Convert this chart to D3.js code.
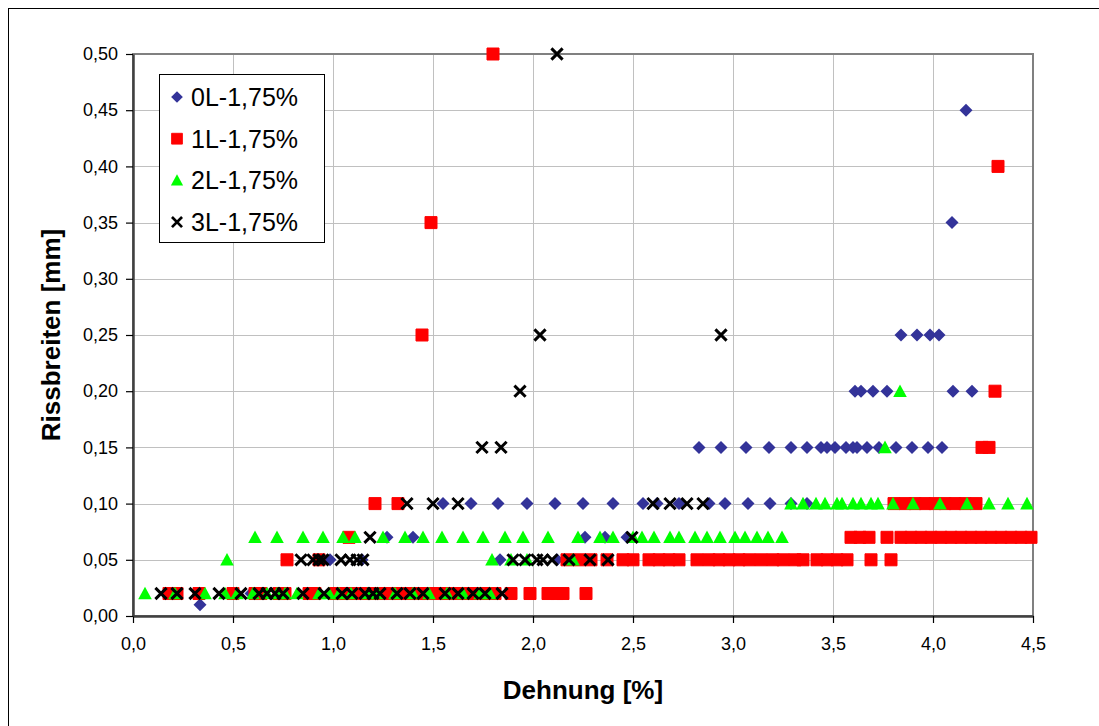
<!DOCTYPE html>
<html>
<head>
<meta charset="utf-8">
<script src="https://cdn.jsdelivr.net/npm/d3@7/dist/d3.min.js"></script>
<style>
  html, body { margin: 0; padding: 0; background: #fff; }
  svg { display: block; }
  text { font-family: "Liberation Sans", Arial, sans-serif; fill: #000; }
</style>
</head>
<body>
<svg id="chart" width="1099" height="726"></svg>
<script>
// Crack widths [mm] against strain [%], grouped per width level: [width, [strains...]]
const series0L = [
  [0.01, [0.335]],
  [0.02, [0.59]],
  [0.05, [0.985, 1.145, 1.835, 2.12]],
  [0.07, [1.27, 1.40, 2.26, 2.36, 2.47]],
  [0.10, [1.55, 1.69, 1.825, 1.97, 2.11, 2.25, 2.40, 2.55, 2.62, 2.73, 2.88, 2.96, 3.075, 3.185, 3.29, 3.37]],
  [0.15, [2.83, 2.94, 3.065, 3.18, 3.29, 3.37, 3.44, 3.47, 3.51, 3.565, 3.60, 3.62, 3.67, 3.73, 3.815, 3.895, 3.975, 4.045]],
  [0.20, [3.61, 3.64, 3.70, 3.77, 4.10, 4.195]],
  [0.25, [3.84, 3.92, 3.985, 4.03]],
  [0.35, [4.095]],
  [0.45, [4.165]]
];
const series1L = [
  [0.02, [0.18, 0.22, 0.33, 0.50, 0.61, 0.64, 0.73, 0.76, 0.88, 0.91, 1.01, 1.04, 1.10, 1.16, 1.20, 1.24, 1.285, 1.33, 1.385, 1.43, 1.475, 1.52, 1.57, 1.62, 1.67, 1.71, 1.75, 1.81, 1.89, 1.985, 2.075, 2.12, 2.15, 2.265]],
  [0.05, [0.77, 0.93, 2.17, 2.23, 2.29, 2.37, 2.45, 2.50, 2.58, 2.63, 2.68, 2.73, 2.82, 2.88, 2.93, 2.98, 3.03, 3.08, 3.14, 3.20, 3.25, 3.31, 3.35, 3.42, 3.47, 3.52, 3.57, 3.69, 3.79]],
  [0.07, [1.08, 3.59, 3.635, 3.68, 3.77, 3.84, 3.89, 3.94, 3.99, 4.04, 4.09, 4.14, 4.19, 4.24, 4.29, 4.34, 4.39, 4.44, 4.49]],
  [0.10, [1.21, 1.325, 3.805, 3.86, 3.91, 3.96, 4.01, 4.06, 4.11, 4.16, 4.215]],
  [0.15, [4.245, 4.28]],
  [0.20, [4.31]],
  [0.25, [1.445]],
  [0.35, [1.49]],
  [0.40, [4.325]],
  [0.50, [1.80]]
];
const series2L = [
  [0.02, [0.06, 0.21, 0.36, 0.46, 0.52, 0.60, 0.67, 0.72, 0.76, 0.82, 0.93, 0.98, 1.03, 1.09, 1.175, 1.225, 1.31, 1.40, 1.48, 1.57, 1.65, 1.735, 1.785]],
  [0.05, [0.47, 1.795, 1.89, 1.97, 2.20]],
  [0.07, [0.61, 0.72, 0.85, 0.95, 1.05, 1.11, 1.25, 1.36, 1.45, 1.545, 1.65, 1.75, 1.86, 1.95, 2.075, 2.225, 2.335, 2.40, 2.50, 2.545, 2.605, 2.685, 2.73, 2.81, 2.87, 2.935, 3.01, 3.06, 3.12, 3.175, 3.245]],
  [0.10, [3.29, 3.35, 3.415, 3.46, 3.52, 3.545, 3.60, 3.64, 3.69, 3.725, 3.80, 3.90, 4.035, 4.17, 4.28, 4.375, 4.47]],
  [0.15, [3.76]],
  [0.20, [3.835]]
];
const series3L = [
  [0.02, [0.14, 0.22, 0.31, 0.43, 0.54, 0.63, 0.67, 0.71, 0.75, 0.85, 0.955, 1.045, 1.095, 1.16, 1.20, 1.235, 1.32, 1.385, 1.45, 1.56, 1.625, 1.70, 1.76, 1.845]],
  [0.05, [0.84, 0.90, 0.93, 0.95, 1.04, 1.085, 1.12, 1.15, 1.90, 1.96, 2.02, 2.05, 2.095, 2.18, 2.285, 2.375]],
  [0.07, [1.185, 2.495]],
  [0.10, [1.37, 1.50, 1.625, 2.60, 2.685, 2.77, 2.85]],
  [0.15, [1.745, 1.84]],
  [0.20, [1.935]],
  [0.25, [2.035, 2.94]],
  [0.50, [2.12]]
];

const seriesNames = ["0L-1,75%", "1L-1,75%", "2L-1,75%", "3L-1,75%"];
const seriesColors = ["#333399", "#FF0000", "#00FF00", "#000000"];
const seriesShapes = ["diamond", "square", "triangle", "cross"];
const xTicks = [0, 0.5, 1, 1.5, 2, 2.5, 3, 3.5, 4, 4.5];
const yTicks = [0, 0.05, 0.10, 0.15, 0.20, 0.25, 0.30, 0.35, 0.40, 0.45, 0.50];
const xTitle = "Dehnung [%]";
const yTitle = "Rissbreiten [mm]";

const allSeries = [series0L, series1L, series2L, series3L];

const svg = d3.select("#chart");
const W = 1099, H = 726;
const plot = { left: 133, top: 54, right: 1033, bottom: 616 };

const x = d3.scaleLinear().domain([0, 4.5]).range([plot.left, plot.right]);
const y = d3.scaleLinear().domain([0, 0.5]).range([plot.bottom, plot.top]);
const fmtX = v => d3.format(".1f")(v).replace(".", ",");
const fmtY = v => d3.format(".2f")(v).replace(".", ",");

svg.append("rect").attr("width", W).attr("height", H).attr("fill", "#fff");
// outer chart frame
svg.append("rect")
  .attr("x", 8.5).attr("y", 8.5)
  .attr("width", W + 40).attr("height", H + 40)
  .attr("fill", "none").attr("stroke", "#000").attr("stroke-width", 1);

// gridlines
const grid = svg.append("g");
grid.selectAll("line.gx").data(xTicks.slice(1, -1)).join("line")
  .attr("x1", d => Math.round(x(d)) + 0.5).attr("x2", d => Math.round(x(d)) + 0.5)
  .attr("y1", plot.top).attr("y2", plot.bottom)
  .attr("stroke", "#C0C0C0").attr("stroke-width", 1);
grid.selectAll("line.gy").data(yTicks.slice(1, -1)).join("line")
  .attr("y1", d => Math.round(y(d)) + 0.5).attr("y2", d => Math.round(y(d)) + 0.5)
  .attr("x1", plot.left).attr("x2", plot.right)
  .attr("stroke", "#C0C0C0").attr("stroke-width", 1);

// plot area border
svg.append("rect")
  .attr("x", plot.left).attr("y", plot.top)
  .attr("width", plot.right - plot.left).attr("height", plot.bottom - plot.top)
  .attr("fill", "none").attr("stroke", "#808080").attr("stroke-width", 2);

// axes
const xAxis = svg.append("g").attr("transform", `translate(0,${plot.bottom})`)
  .call(d3.axisBottom(x).tickValues(xTicks).tickFormat(fmtX).tickSizeOuter(0).tickSizeInner(7).tickPadding(14));
const yAxis = svg.append("g").attr("transform", `translate(${plot.left},0)`)
  .call(d3.axisLeft(y).tickValues(yTicks).tickFormat(fmtY).tickSizeOuter(0).tickSizeInner(7).tickPadding(8));
[xAxis, yAxis].forEach(g => {
  g.select(".domain").attr("stroke", "#404040").attr("stroke-width", 2.5);
  g.selectAll(".tick line").attr("stroke", "#000").attr("stroke-width", 1.2);
  g.selectAll(".tick text").attr("font-size", 18).attr("font-family", "Liberation Sans, Arial, sans-serif").attr("fill", "#000");
});

// axis titles
svg.append("text")
  .attr("x", (plot.left + plot.right) / 2).attr("y", 699)
  .attr("text-anchor", "middle").attr("font-size", 26).attr("font-weight", "bold")
  .text(xTitle);
svg.append("text")
  .attr("transform", `translate(60,${(plot.top + plot.bottom) / 2}) rotate(-90)`)
  .attr("text-anchor", "middle").attr("font-size", 26).attr("font-weight", "bold")
  .text(yTitle);

// marker symbol paths
function markerPath(shape, s) {
  switch (shape) {
    case "diamond": return `M0,${-s}L${s},0L0,${s}L${-s},0Z`;
    case "square": return `M${-s},${-s}H${s}V${s}H${-s}Z`;
    case "triangle": return `M0,${-s}L${s},${s * 0.85}L${-s},${s * 0.85}Z`;
    case "cross": return `M${-s},${-s}L${s},${s}M${s},${-s}L${-s},${s}`;
  }
}
const markerSize = { diamond: 6.5, square: 6, triangle: 6.8, cross: 5.6 };

function drawMarker(g, shape, color) {
  const p = g.append("path").attr("d", markerPath(shape, markerSize[shape]));
  if (shape === "cross") {
    p.attr("fill", "none").attr("stroke", color).attr("stroke-width", 3);
  } else if (shape === "square") {
    p.attr("fill", color).attr("stroke", color).attr("stroke-width", 1).attr("stroke-linejoin", "round");
  } else {
    p.attr("fill", color);
  }
}

const pts = allSeries.map(rows => rows.flatMap(([w, xs]) => xs.map(v => ({ x: v, y: w }))));

const marks = svg.append("g");
pts.forEach((data, i) => {
  marks.append("g").selectAll("g").data(data).join("g")
    .attr("transform", d => `translate(${x(d.x)},${y(d.y)})`)
    .each(function () { drawMarker(d3.select(this), seriesShapes[i], seriesColors[i]); });
});

// legend
const lg = svg.append("g");
lg.append("rect").attr("x", 159.5).attr("y", 74.5).attr("width", 165).attr("height", 168)
  .attr("fill", "#fff").attr("stroke", "#000").attr("stroke-width", 1);
seriesNames.forEach((name, i) => {
  const cy = 97 + i * 41.7;
  const row = lg.append("g");
  const m = row.append("g").attr("transform", `translate(177,${cy}) scale(0.9)`);
  drawMarker(m, seriesShapes[i], seriesColors[i]);
  row.append("text").attr("x", 191).attr("y", cy + 9).attr("font-size", 25).text(name);
});
</script>
</body>
</html>
